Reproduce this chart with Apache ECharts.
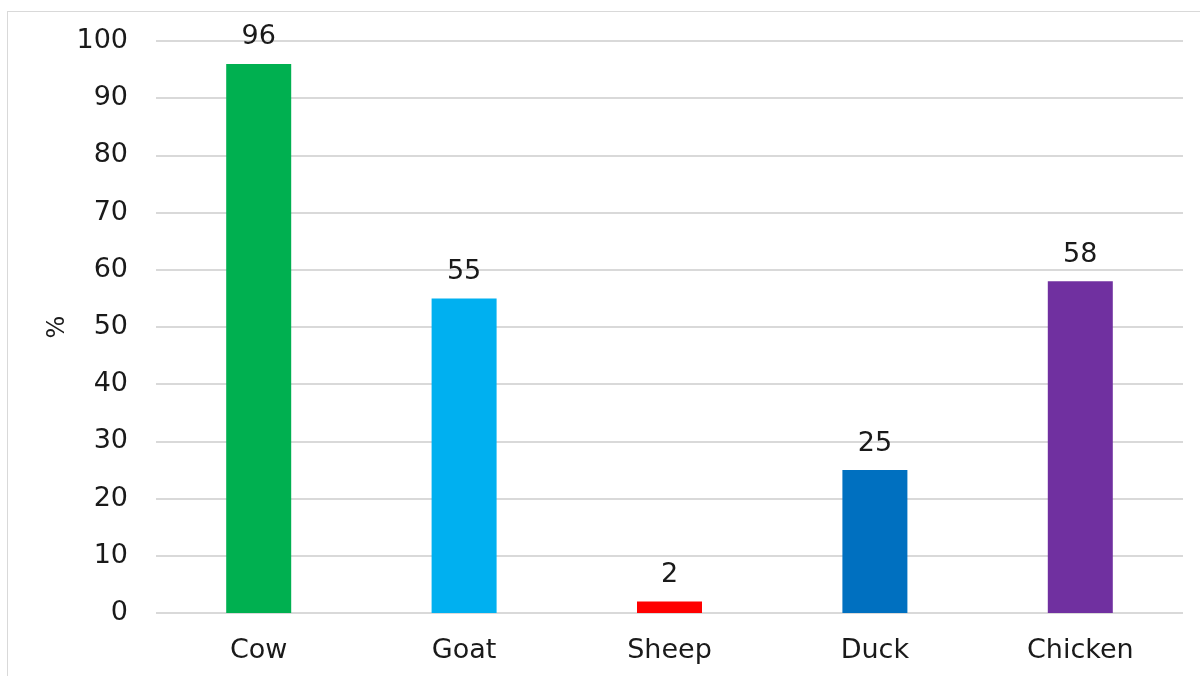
<!DOCTYPE html>
<html lang="en">
  <head>
    <meta charset="UTF-8" />
    <title>Animals</title>
    <script src="https://cdn.jsdelivr.net/npm/echarts@6/dist/echarts.min.js"></script>
    <style>
      html, body { margin: 0; padding: 0; background: #fff; }
      #frame { position: absolute; left: 7px; top: 11px; width: 1200px; height: 700px; border: 1px solid #d9d9d9; box-sizing: border-box; }
      #main { position: absolute; left: 0; top: 0; width: 1200px; height: 676px; }
    </style>
  </head>
  <body>
    <div id="frame"></div>
    <div id="main"></div>
    <script>
      // data
      var animals = ['Cow', 'Goat', 'Sheep', 'Duck', 'Chicken'];
      var percents = [96, 55, 2, 25, 58];
      var barColors = ['#00B050', '#00B0F0', '#FF0000', '#0070C0', '#7030A0'];

      var font = '"DejaVu Sans", sans-serif';
      var myChart = echarts.init(document.getElementById('main'));

      var option = {
        animation: false,
        grid: { left: 156, right: 17, top: 41, bottom: 63 },
        xAxis: {
          type: 'category',
          data: animals,
          axisLine: { show: false },
          axisTick: { show: false },
          axisLabel: { color: '#1a1a1a', fontSize: 27, fontFamily: font, margin: 24 }
        },
        yAxis: {
          type: 'value',
          min: 0,
          max: 100,
          interval: 10,
          name: '%',
          nameLocation: 'middle',
          nameGap: 86,
          nameMoveOverlap: false,
          nameTextStyle: { color: '#1a1a1a', fontSize: 24, fontFamily: font },
          axisLine: { show: false },
          axisTick: { show: false },
          axisLabel: { color: '#1a1a1a', fontSize: 27, fontFamily: font, margin: 28 },
          splitLine: { lineStyle: { color: '#d9d9d9', width: 2 } }
        },
        series: [{
          type: 'bar',
          barWidth: 65,
          data: percents.map(function (v, i) {
            return { value: v, itemStyle: { color: barColors[i] } };
          }),
          label: {
            show: true,
            position: 'top',
            distance: 13,
            color: '#1a1a1a',
            fontSize: 27,
            fontFamily: font
          }
        }]
      };
      myChart.setOption(option);
    </script>
  </body>
</html>
